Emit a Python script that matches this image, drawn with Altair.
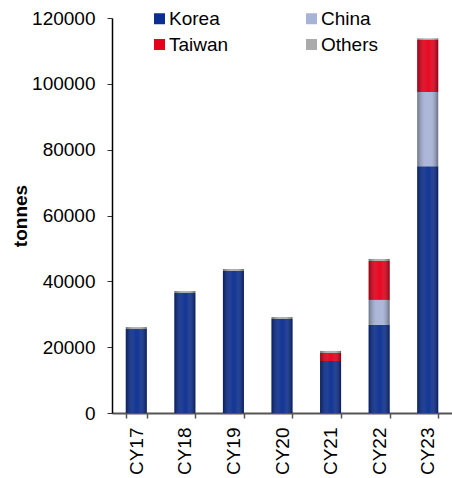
import altair as alt
import pandas as pd

years = ["CY17", "CY18", "CY19", "CY20", "CY21", "CY22", "CY23"]
series = ["Korea", "China", "Taiwan", "Others"]
legend_order = ["Korea", "Taiwan", "China", "Others"]
korea = [25500, 36450, 43150, 28550, 15800, 26750, 75000]
china = [0, 0, 0, 0, 0, 7600, 22500]
taiwan = [0, 0, 0, 0, 2450, 11850, 16000]
others = [600, 600, 600, 600, 600, 600, 300]
colors = ["#0B2E90", "#A8B3D8", "#E6001B", "#ABABAB"]
y_ticks = [0, 20000, 40000, 60000, 80000, 100000, 120000]

rows = []
for i, y in enumerate(years):
    for k, (s, vals) in enumerate(zip(series, [korea, china, taiwan, others])):
        rows.append({"year": y, "series": s, "order": k, "value": vals[i]})
df = pd.DataFrame(rows)

FONT = "Liberation Sans"

base = alt.Chart(df).transform_stack(
    stack="value", groupby=["year"], as_=["v0", "v1"],
    sort=[alt.SortField("order", order="ascending")]
)

x_enc = alt.X(
    "year:N", sort=years, title=None,
    scale=alt.Scale(paddingInner=0.57, paddingOuter=0.285),
    axis=alt.Axis(labelAngle=-90, tickBand="extent", tickSize=5, labelPadding=9,
                  labelFontSize=19, labelFont=FONT, labelColor="#000000",
                  domainColor="#555555", domainWidth=2, tickColor="#555555",
                  tickWidth=1.5),
)
y_enc = alt.Y(
    "v0:Q", title="tonnes",
    scale=alt.Scale(domain=[0, 120000], nice=False),
    axis=alt.Axis(values=y_ticks, format="d", grid=False, tickSize=5,
                  labelPadding=12, labelFontSize=19, labelFont=FONT,
                  labelColor="#000000", domainColor="#000000", domainWidth=1.5,
                  tickColor="#333333", titleFont=FONT, titleFontSize=19,
                  titleFontWeight="bold", titleColor="#000000", titlePadding=1),
)

bars = base.mark_bar(size=21).encode(
    x=x_enc,
    y=y_enc,
    y2="v1:Q",
    color=alt.Color(
        "series:N", title=None,
        scale=alt.Scale(domain=series, range=colors),
        legend=alt.Legend(
            orient="none", legendX=38, legendY=-9, columns=2,
            values=legend_order,
            columnPadding=73, rowPadding=6, symbolType="square",
            symbolSize=121, symbolStrokeWidth=0, labelFontSize=19,
            labelFont=FONT, labelColor="#000000", labelOffset=0,
            labelLimit=200,
        ),
    ),
)

shade = base.mark_bar(
    size=21,
    color=alt.Gradient(
        gradient="linear", x1=0, x2=1, y1=0, y2=0,
        stops=[
            alt.GradientStop(offset=0, color="rgba(0,0,0,0.35)"),
            alt.GradientStop(offset=0.45, color="rgba(255,255,255,0.05)"),
            alt.GradientStop(offset=0.6, color="rgba(255,255,255,0.05)"),
            alt.GradientStop(offset=1, color="rgba(0,0,0,0.4)"),
        ],
    ),
).encode(x=alt.X("year:N", sort=years), y="v0:Q", y2="v1:Q")

chart = alt.layer(bars, shade).properties(
    width=340, height=395,
    autosize=alt.AutoSizeParams(type="none"),
    padding={"left": 112, "top": 18, "right": 0, "bottom": 65},
).configure_view(stroke=None)

chart.save("out.html", embed_options={"renderer": "svg", "actions": False})
